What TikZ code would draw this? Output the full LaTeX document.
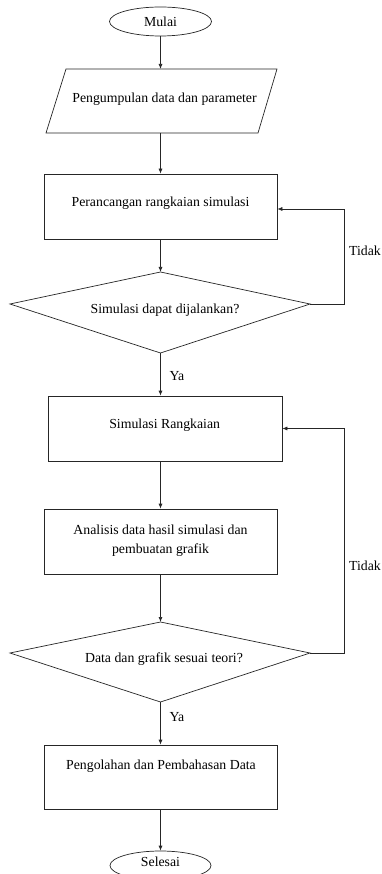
\documentclass[tikz,border=0pt]{standalone}
\usepackage{fontspec}
\setmainfont{Liberation Serif}
\usetikzlibrary{shapes.geometric,arrows.meta}
\begin{document}
\begin{tikzpicture}[x=1pt,y=-1pt,
  every node/.style={font=\fontsize{13.8}{19}\selectfont, inner sep=0pt},
  ln/.style={line width=0.7pt, draw=black!85},
  arr/.style={ln, -{Latex[length=5pt,width=4pt]}},
  box/.style={ln, draw, rectangle, minimum height=65pt},
  term/.style={ln, draw, ellipse, minimum width=102pt, minimum height=29pt}]
\useasboundingbox (0,0) rectangle (382,874);
\clip (0,0) rectangle (382,874);
\fill[white] (0,0) rectangle (382,874);

% start
\node[term] (mulai) at (160.5,21.5) {Mulai};

% parallelogram
\coordinate (p1) at (66,69);
\coordinate (p2) at (277,69);
\coordinate (p3) at (258,133);
\coordinate (p4) at (46,133);
\coordinate (pt) at (160.5,69);
\coordinate (pb) at (160.5,133);
\draw[ln] (p1) -- (p2) -- (p3) -- (p4) -- cycle;
\node (ptext) at (164.5,99) {Pengumpulan data dan parameter};

% rect 1
\node[box, minimum width=233pt] (r1) at (160.5,206.5) {};
\node (r1text) at (160.5,203) {Perancangan rangkaian simulasi};

% diamond 1
\coordinate (d1t) at (160.5,272);
\coordinate (d1r) at (310,304);
\coordinate (d1b) at (160.5,353);
\coordinate (d1l) at (10,304);
\draw[ln] (d1t) -- (d1r) -- (d1b) -- (d1l) -- cycle;
\node (d1text) at (165,310) {Simulasi dapat dijalankan?};

% rect 2
\node[box, minimum width=234pt] (r2) at (165,428.5) {};
\node (r2text) at (164.7,425) {Simulasi Rangkaian};

% rect 3
\node[box, minimum width=233pt] (r3) at (160.5,541.5) {};
\node[align=center] (r3text) at (160.5,540.5) {Analisis data hasil simulasi dan\\pembuatan grafik};

% diamond 2
\coordinate (d2t) at (160.5,622);
\coordinate (d2r) at (310,653);
\coordinate (d2b) at (160.5,702);
\coordinate (d2l) at (10,653);
\draw[ln] (d2t) -- (d2r) -- (d2b) -- (d2l) -- cycle;
\node (d2text) at (164,659) {Data dan grafik sesuai teori?};

% rect 4
\node[box, minimum width=233pt, minimum height=64pt] (r4) at (160.5,777) {};
\node (r4text) at (161,766) {Pengolahan dan Pembahasan Data};

% end
\node[term, minimum width=101pt] (selesai) at (160.5,865.5) {};
\node (seltext) at (160.5,862) {Selesai};

% connectors
\draw[arr] (mulai.south) -- (pt);
\draw[arr] (pb) -- (pb |- r1.north);
\draw[arr] (pb |- r1.south) -- (d1t);
\draw[arr] (d1b) -- (d1b |- r2.north);
\draw[arr] (d1b |- r2.south) -- (d1b |- r3.north);
\draw[arr] (d1b |- r3.south) -- (d2t);
\draw[arr] (d2b) -- (d2b |- r4.north);
\draw[arr] (d2b |- r4.south) -- (selesai.north);

% feedback loops
\draw[arr] (d1r) -- (344,304) |- ([yshift=-2.5pt]r1.east);
\draw[arr] (d2r) -- (344,653) |- (r2.east);

% labels
\node (t1) at (365,251) {Tidak};
\node (t2) at (365,566) {Tidak};
\node (y1) at (177,376) {Ya};
\node (y2) at (177,717) {Ya};
\end{tikzpicture}
\end{document}
